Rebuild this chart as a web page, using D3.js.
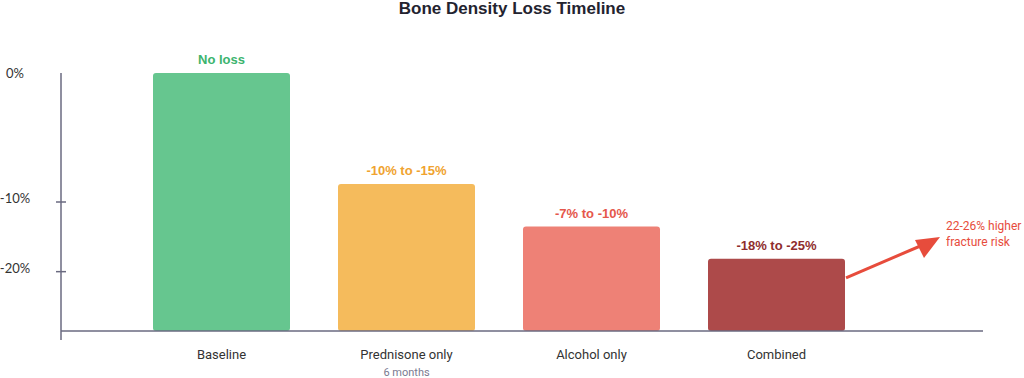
<!DOCTYPE html>
<html>
<head>
<meta charset="utf-8">
<script src="https://cdn.jsdelivr.net/npm/d3@7"></script>
<style>
  body { margin: 0; background: #fff; }
  svg { display: block; font-family: "Liberation Sans", Arial, sans-serif; }
</style>
</head>
<body>
<div id="plot"></div>
<script>
// Data (bar heights are an illustrative "remaining density" index)
var categories = ["Baseline", "Prednisone only", "Alcohol only", "Combined"];
var subLabels = ["", "6 months", "", ""];
var values = [100, 57, 40.5, 28];
var valueLabels = ["No loss", "-10% to -15%", "-7% to -10%", "-18% to -25%"];
var tickValues = [100, 50, 23];
var tickLabels = ["0%", "-10%", "-20%"];

var barColours = ["#66c68f", "#f5bb5c", "#ee8176", "#ad4a4a"];
var labelColours = ["#3cb46e", "#f0a330", "#e5574b", "#8f2d2d"];

var w = 1024, h = 378;
var x0 = 61, x1 = 983, yTop = 73, yBottom = 331;

var svg = d3.select("#plot").append("svg")
    .attr("width", w)
    .attr("height", h);

// title
svg.append("text")
    .attr("x", 512).attr("y", 14)
    .attr("text-anchor", "middle")
    .attr("font-size", 17).attr("font-weight", "bold")
    .attr("fill", "#23232f")
    .text("Bone Density Loss Timeline");

// scales
var xScale = d3.scaleBand()
    .domain(categories)
    .range([153, 153 + 185 * 4 - 48])
    .paddingInner((185 - 137) / 185)
    .paddingOuter(0);

var yScale = d3.scaleLinear()
    .domain([0, 100])
    .range([yBottom, yTop]);

// bars
svg.selectAll(".bar")
    .data(values)
    .enter().append("rect")
    .attr("class", "bar")
    .attr("x", function(d, i) { return xScale(categories[i]); })
    .attr("y", function(d) { return yScale(d); })
    .attr("width", xScale.bandwidth())
    .attr("height", function(d) { return yScale(0) - yScale(d); })
    .attr("rx", 3)
    .attr("fill", function(d, i) { return barColours[i]; });

// value labels
svg.selectAll(".vlabel")
    .data(values)
    .enter().append("text")
    .attr("class", "vlabel")
    .attr("x", function(d, i) { return xScale(categories[i]) + xScale.bandwidth() / 2; })
    .attr("y", function(d) { return yScale(d) - 9; })
    .attr("text-anchor", "middle")
    .attr("font-size", 13).attr("font-weight", "bold")
    .attr("fill", function(d, i) { return labelColours[i]; })
    .text(function(d, i) { return valueLabels[i]; });

// axes
var axisColour = "#6a6a80";
svg.append("line")
    .attr("x1", x0).attr("x2", x0)
    .attr("y1", yTop).attr("y2", 340)
    .attr("stroke", axisColour).attr("stroke-width", 1.5);
svg.append("line")
    .attr("x1", x0).attr("x2", x1)
    .attr("y1", yBottom).attr("y2", yBottom)
    .attr("stroke", axisColour).attr("stroke-width", 1.5);

// y ticks
tickValues.forEach(function(v, i) {
  var y = yScale(v);
  if (i > 0) {
    svg.append("line")
        .attr("x1", x0 - 5).attr("x2", x0 + 5)
        .attr("y1", y).attr("y2", y)
        .attr("stroke", axisColour).attr("stroke-width", 1.5);
  }
  svg.append("text")
      .attr("x", 15).attr("y", i > 0 ? y + 1 : y + 5)
      .attr("text-anchor", "middle")
      .attr("font-family", "Lato, sans-serif")
      .attr("font-size", 13)
      .attr("fill", "#333")
      .text(tickLabels[i]);
});

// category labels
svg.selectAll(".clabel")
    .data(categories)
    .enter().append("text")
    .attr("class", "clabel")
    .attr("x", function(d) { return xScale(d) + xScale.bandwidth() / 2; })
    .attr("y", 359)
    .attr("text-anchor", "middle")
    .attr("font-family", "Roboto, sans-serif")
    .attr("font-size", 13)
    .attr("fill", "#333")
    .text(function(d) { return d; });

svg.selectAll(".slabel")
    .data(categories)
    .enter().append("text")
    .attr("class", "slabel")
    .attr("x", function(d) { return xScale(d) + xScale.bandwidth() / 2; })
    .attr("y", 376)
    .attr("text-anchor", "middle")
    .attr("font-family", "Roboto, sans-serif")
    .attr("font-size", 11)
    .attr("fill", "#7a7a90")
    .text(function(d, i) { return subLabels[i]; });

// arrow annotation
var arrowRed = "#e74c3c";
var last = categories.length - 1;
var ax = xScale(categories[last]) + xScale.bandwidth() + 1;
var ay = yScale(values[last]) + 19;
svg.append("line")
    .attr("x1", ax).attr("y1", ay)
    .attr("x2", 925).attr("y2", 244)
    .attr("stroke", arrowRed).attr("stroke-width", 3);

svg.append("path")
    .attr("d", "M940,237 L915,240 L924,258 Z")
    .attr("fill", arrowRed);

svg.append("text")
    .attr("x", 946).attr("y", 230)
    .attr("font-family", "Roboto, sans-serif")
    .attr("font-size", 12)
    .attr("fill", arrowRed)
    .text("22-26% higher");
svg.append("text")
    .attr("x", 946).attr("y", 246)
    .attr("font-family", "Roboto, sans-serif")
    .attr("font-size", 12)
    .attr("fill", arrowRed)
    .text("fracture risk");
</script>
</body>
</html>
